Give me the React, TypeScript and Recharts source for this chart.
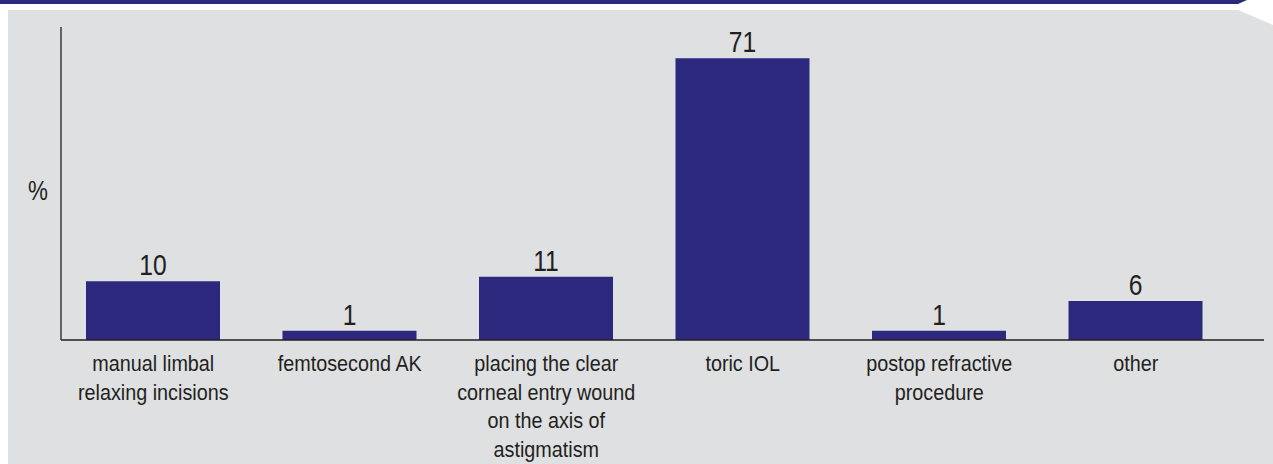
import { BarChart, Bar, XAxis, YAxis, LabelList } from "recharts";

const categories = [
  "manual limbal\nrelaxing incisions",
  "femtosecond AK",
  "placing the clear\ncorneal entry wound\non the axis of\nastigmatism",
  "toric IOL",
  "postop refractive\nprocedure",
  "other",
];

const shares = [10, 1, 11, 71, 1, 6];

const data = categories.map((name, i) => ({ name, value: shares[i] }));

const FONT = '"Liberation Sans", Arial, Helvetica, sans-serif';
const INK = "#231f20";
const NAVY = "#2b287d";

// the original drawing is not proportional, a power scale gets close to its bar heights
function powScale(k: number) {
  let dom = [0, 1];
  let rng = [0, 1];
  const t = (x: number) => (x < 0 ? -Math.pow(-x, k) : Math.pow(x, k));
  const s: any = (v: number) => {
    const a = t(dom[0]);
    const b = t(dom[1]);
    return rng[0] + ((t(v) - a) / (b - a)) * (rng[1] - rng[0]);
  };
  s.domain = (d?: number[]) => {
    if (d === undefined) return dom.slice();
    dom = [Number(d[0]), Number(d[d.length - 1])];
    return s;
  };
  s.range = (r?: number[]) => {
    if (r === undefined) return rng.slice();
    rng = [Number(r[0]), Number(r[r.length - 1])];
    return s;
  };
  s.invert = (y: number) => {
    const a = t(dom[0]);
    const b = t(dom[1]);
    const u = a + ((y - rng[0]) / (rng[1] - rng[0])) * (b - a);
    return u < 0 ? -Math.pow(-u, 1 / k) : Math.pow(u, 1 / k);
  };
  s.ticks = (n = 5) => {
    const out: number[] = [];
    for (let i = 0; i <= n; i++) out.push(dom[0] + ((dom[1] - dom[0]) * i) / n);
    return out;
  };
  s.tickFormat = () => (v: number) => String(v);
  s.nice = () => s;
  s.clamp = () => s;
  s.copy = () => powScale(k).domain(dom).range(rng);
  return s;
}

// condensed look: Liberation Sans squeezed horizontally
const CategoryTick = (props: any) => {
  const { x, y, payload } = props;
  const lines = String(payload.value).split("\n");
  return (
    <g transform={`translate(${x},${y}) scale(0.9,1)`}>
      <text x={0} y={0} textAnchor="middle" fill={INK} fontSize={22} fontFamily={FONT}>
        {lines.map((line, i) => (
          <tspan key={i} x={0} dy={i === 0 ? 23 : 28.6}>
            {line}
          </tspan>
        ))}
      </text>
    </g>
  );
};

const ValueLabel = (props: any) => {
  const { x, y, width, value } = props;
  return (
    <g transform={`translate(${Number(x) + Number(width) / 2},${Number(y) - 6}) scale(0.85,1)`}>
      <text x={0} y={0} textAnchor="middle" fill={INK} fontSize={29} fontFamily={FONT}>
        {value}
      </text>
    </g>
  );
};

const PercentLabel = (props: any) => {
  const vb = props.viewBox || {};
  const x = vb.x + vb.width - 13;
  const y = vb.y + vb.height / 2 + 16;
  return (
    <g transform={`translate(${x},${y}) scale(0.8,1)`}>
      <text x={0} y={0} textAnchor="end" fill={INK} fontSize={28} fontFamily={FONT}>
        %
      </text>
    </g>
  );
};

export default function App() {
  return (
    <div
      style={{
        position: "absolute",
        left: 0,
        top: 0,
        width: 1273,
        height: 464,
        background: "#ffffff",
        overflow: "hidden",
      }}
    >
      <div
        style={{
          position: "absolute",
          left: 0,
          top: 0,
          width: 1273,
          height: 4,
          background: NAVY,
          clipPath: "polygon(0 0, 1247px 0, 1238px 4px, 0 4px)",
        }}
      />
      <div
        style={{
          position: "absolute",
          left: 8,
          top: 10,
          width: 1265,
          height: 454,
          background: "#dfe0e2",
          clipPath: "polygon(0 0, 1230px 0, 1265px 15px, 1265px 454px, 0 454px)",
        }}
      />
      <div style={{ position: "absolute", left: 0, top: 0 }}>
        <BarChart
          width={1273}
          height={464}
          data={data}
          margin={{ top: 27, right: 9, bottom: 0, left: 1 }}
          barSize={134}
        >
          <XAxis
            dataKey="name"
            interval={0}
            tickLine={false}
            axisLine={{ stroke: INK, strokeWidth: 1.3 }}
            tick={<CategoryTick />}
            padding={{ left: -6, right: 30 }}
            height={124}
          />
          <YAxis
            width={60}
            type="number"
            domain={[0, 81]}
            scale={powScale(0.8) as any}
            tick={false}
            tickLine={false}
            axisLine={{ stroke: INK, strokeWidth: 1.3 }}
            label={{ content: <PercentLabel /> } as any}
          />
          <Bar dataKey="value" fill={NAVY} isAnimationActive={false}>
            <LabelList dataKey="value" content={<ValueLabel />} />
          </Bar>
        </BarChart>
      </div>
    </div>
  );
}
